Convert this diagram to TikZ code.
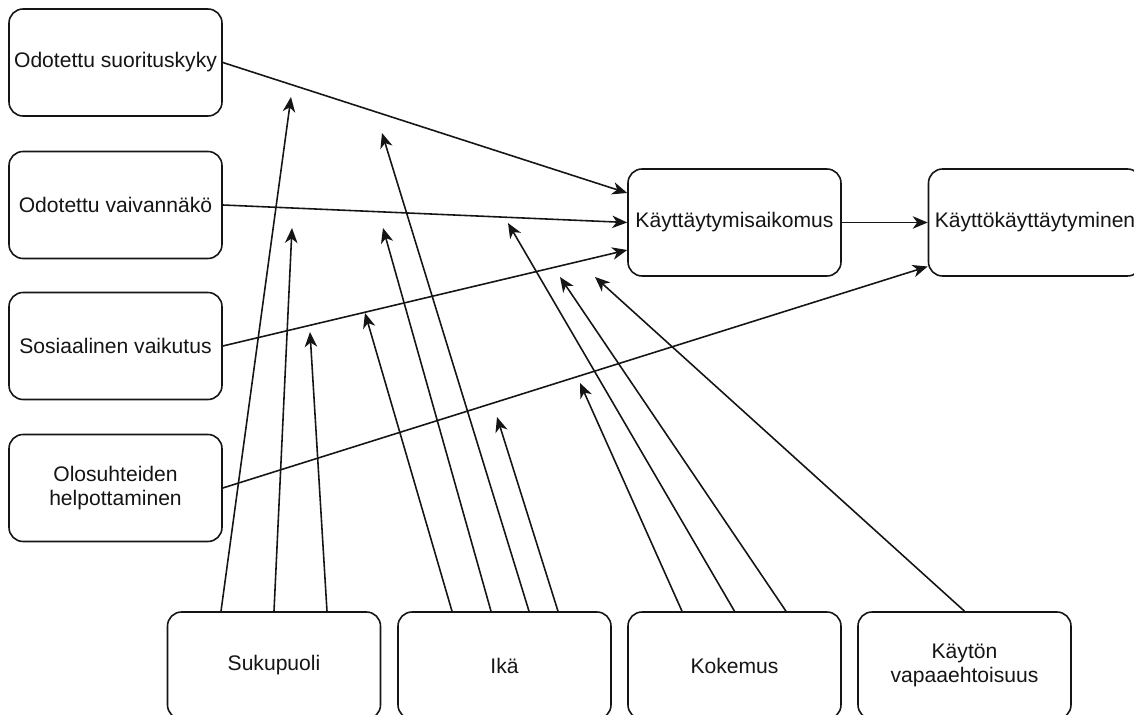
\documentclass[tikz,border=0pt]{standalone}
\usepackage{fontspec}
\setmainfont{Liberation Sans}
\usetikzlibrary{arrows.meta, calc}
\definecolor{cline}{HTML}{151515}
\tikzset{
  every picture/.style={line width=0.9pt},
  box/.style={draw=cline, fill=white, rounded corners=8pt, align=center, inner sep=2pt,
    minimum width=4.26cm, minimum height=2.14cm, text=cline, font=\fontsize{12}{13.6}\selectfont},
  arrow/.style={-{Stealth[length=3mm, width=2.5mm, inset=0.9mm]}, draw=cline, line width=0.9pt},
}

\begin{document}
\begin{tikzpicture}
  \useasboundingbox (0,0) rectangle (22.68,-14.30);
  % determinants
  \node[box] (os) at (2.31,-1.25) {Odotettu suorituskyky};
  \node[box] (ov) at (2.31,-4.10) {Odotettu vaivannäkö};
  \node[box] (sv) at (2.31,-6.92) {Sosiaalinen vaikutus};
  \node[box] (oh) at (2.31,-9.76) {Olosuhteiden\\helpottaminen};
  % intention and use
  \node[box] (ka) at (14.69,-4.45) {Käyttäytymisaikomus};
  \node[box] (kk) at (20.70,-4.45) {Käyttökäyttäytyminen};
  % moderators
  \node[box] (suku) at (5.48,-13.31) {Sukupuoli};
  \node[box] (ika) at (10.09,-13.31) {Ikä};
  \node[box] (kok) at (14.69,-13.31) {Kokemus};
  \node[box] (vap) at (19.29,-13.31) {Käytön\\vapaaehtoisuus};
  % main paths
  \draw[arrow] (os.east) -- ($(ka.west)+(0,0.59)$);
  \draw[arrow] (ov.east) -- (ka.west);
  \draw[arrow] (sv.east) -- ($(ka.west)+(0,-0.55)$);
  \draw[arrow] (oh.east) -- ($(kk.west)+(0,-0.88)$);
  \draw[arrow] (ka.east) -- (kk.west);
  % moderating effects
  \foreach \n/\s/\dx/\tx/\ty in {
      1/suku/-1.06/5.82/-1.94, 2/suku/0/5.84/-4.56, 3/suku/1.06/6.20/-6.64,
      4/ika/-1.05/7.30/-6.26, 5/ika/-0.27/7.66/-4.56, 6/ika/0.49/7.64/-2.66, 7/ika/1.07/9.94/-8.34,
      8/kok/-1.05/11.60/-7.66, 9/kok/0/10.16/-4.46, 10/kok/1.03/11.20/-5.54,
      11/vap/0/11.90/-5.54} {
    \coordinate (e\n) at (\tx,\ty);
    \draw[arrow] ($(\s.north)+(\dx,0)$) -- (e\n);
  }
\end{tikzpicture}
\end{document}
